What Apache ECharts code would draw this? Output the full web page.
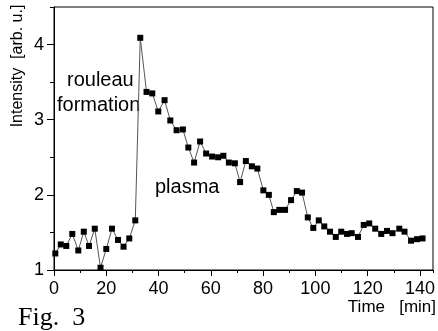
<!DOCTYPE html>
<html><head><meta charset="utf-8">
<script src="https://cdn.jsdelivr.net/npm/echarts@6/dist/echarts.min.js"></script>
<style>html,body{margin:0;padding:0;background:#fff}#c{width:438px;height:331px}</style>
</head><body><div id="c"></div>
<script>
var timeMin = [0.5,2.6,4.7,7.0,9.3,11.4,13.4,15.6,17.8,20.0,22.2,24.5,26.6,28.8,31.1,33.0,35.4,37.6,39.9,42.3,44.5,46.9,49.3,51.4,53.6,55.9,58.2,60.5,62.8,64.8,66.9,69.2,71.2,73.4,75.7,77.8,80.1,82.2,84.1,86.2,88.4,90.7,92.9,94.9,97.1,99.2,101.3,103.4,105.6,107.8,109.9,112.1,113.9,116.3,118.5,120.6,122.9,125.2,127.4,129.5,132.1,134.1,136.6,138.9,141.0];
var intensity = [1.22,1.34,1.32,1.48,1.26,1.51,1.32,1.55,1.03,1.28,1.55,1.40,1.31,1.42,1.66,4.09,3.37,3.35,3.11,3.26,2.99,2.86,2.87,2.63,2.43,2.71,2.55,2.51,2.50,2.52,2.43,2.42,2.17,2.45,2.38,2.35,2.06,2.00,1.77,1.80,1.80,1.93,2.05,2.03,1.70,1.56,1.66,1.58,1.51,1.44,1.51,1.48,1.49,1.44,1.60,1.62,1.55,1.48,1.52,1.49,1.55,1.51,1.39,1.41,1.42];
var xTickLabels = ['0','20','40','60','80','100','120','140'];
var yTickLabels = ['1','2','3','4'];
var annotations = ['rouleau','formation','plasma'];
var yTitle = 'Intensity  [arb. u.]';
var xTitle = 'Time   [min]';
var figLabel = 'Fig.  3';

var pts = timeMin.map(function(t,i){return [t,intensity[i]];});
var font = 'Liberation Sans, Arial, sans-serif';
var chart = echarts.init(document.getElementById('c'));
chart.setOption({
  animation:false,
  grid:{left:54,right:5,top:7,bottom:61,show:true,borderColor:'#000',borderWidth:1,backgroundColor:'transparent'},
  xAxis:[{
    type:'value',min:0,max:145,interval:20,
    axisLine:{lineStyle:{color:'#000',width:1}},
    axisTick:{show:true,length:6,inside:false,lineStyle:{color:'#000'}},
    axisLabel:{color:'#000',fontSize:18,fontFamily:font,margin:10,showMaxLabel:false,
      formatter:function(v){var s=String(v);return xTickLabels.indexOf(s)>=0?s:'';}},
    splitLine:{show:false}
  },{
    type:'value',min:0,max:145,interval:10,position:'bottom',
    axisLine:{show:false},
    axisTick:{show:true,length:3,lineStyle:{color:'#000'}},
    axisLabel:{show:false},splitLine:{show:false}
  }],
  yAxis:[{
    type:'value',min:1,max:4.5,interval:1,
    axisLine:{show:true,lineStyle:{color:'#000',width:1}},
    axisTick:{show:true,length:7,lineStyle:{color:'#000'}},
    axisLabel:{color:'#000',fontSize:18,fontFamily:font,margin:10,showMaxLabel:false,
      formatter:function(v){var s=String(v);return yTickLabels.indexOf(s)>=0?s:'';}},
    splitLine:{show:false}
  },{
    type:'value',min:1,max:4.5,interval:0.5,position:'left',
    axisLine:{show:false},
    axisTick:{show:true,length:4,lineStyle:{color:'#000'}},
    axisLabel:{show:false},splitLine:{show:false}
  }],
  series:[{
    type:'line',data:pts,xAxisIndex:0,yAxisIndex:0,
    symbol:'rect',symbolSize:6,
    lineStyle:{color:'#555',width:1},
    itemStyle:{color:'#000'}
  }],
  graphic:[
    {type:'text',left:67,top:70,style:{text:annotations[0],font:'20px '+font,fill:'#000'}},
    {type:'text',left:57,top:95,style:{text:annotations[1],font:'20px '+font,fill:'#000'}},
    {type:'text',left:155,top:177,style:{text:annotations[2],font:'20px '+font,fill:'#000'}},
    {type:'text',x:18,y:66,rotation:Math.PI/2,style:{text:yTitle,font:'16px '+font,fill:'#000',align:'center',verticalAlign:'middle'}},
    {type:'text',right:2,top:299,style:{text:xTitle,font:'17px '+font,fill:'#000'}},
    {type:'text',left:18,top:305,style:{text:figLabel,font:'26px Liberation Serif, Times New Roman, serif',fill:'#000'}}
  ]
});
</script></body></html>
